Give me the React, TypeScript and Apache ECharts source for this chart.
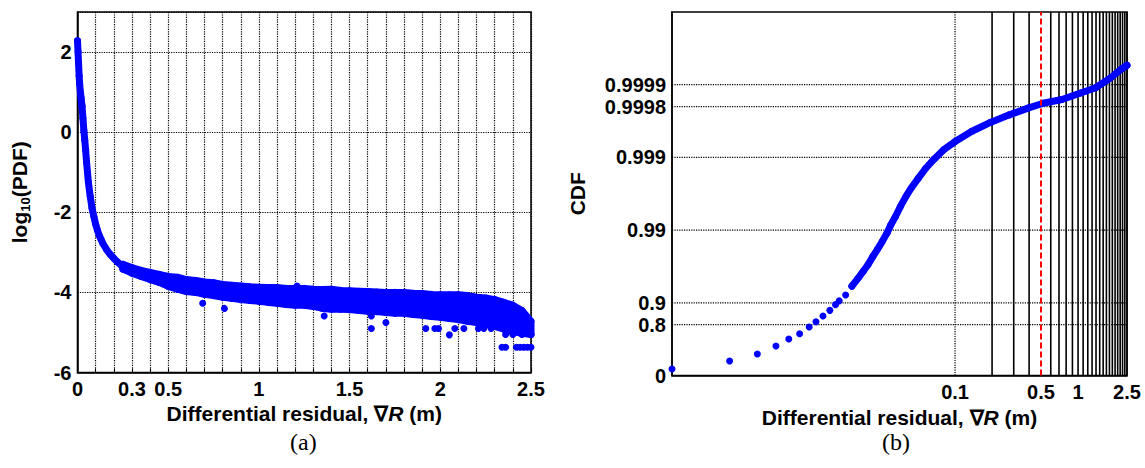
import React, { useEffect, useRef } from 'react';
import * as echarts from 'echarts';

// ---------- Panel (a): log10(PDF) vs differential residual ----------
const pdfCurveX = [0, 0.003, 0.006, 0.009, 0.012, 0.016, 0.02, 0.025, 0.03, 0.035, 0.04, 0.045, 0.05, 0.055, 0.06, 0.07, 0.08, 0.09, 0.1, 0.11, 0.12, 0.13, 0.14, 0.16, 0.18, 0.2, 0.22, 0.25];
const pdfCurveY = [2.28, 2.0, 1.7, 1.4, 1.2, 1.0, 0.85, 0.65, 0.35, 0.05, -0.2, -0.45, -0.75, -1.0, -1.25, -1.6, -1.9, -2.1, -2.3, -2.45, -2.58, -2.68, -2.78, -2.93, -3.05, -3.15, -3.24, -3.36];

const bandX = [0.25, 0.3, 0.35, 0.4, 0.45, 0.5, 0.55, 0.6, 0.65, 0.7, 0.75, 0.8, 0.85, 0.9, 0.95, 1.0, 1.05, 1.1, 1.15, 1.2, 1.25, 1.3, 1.35, 1.4, 1.45, 1.5, 1.55, 1.6, 1.65, 1.7, 1.75, 1.8, 1.85, 1.9, 1.95, 2.0, 2.05, 2.1, 2.15, 2.2, 2.25, 2.3, 2.35, 2.4, 2.45, 2.5];
const bandTop = [-3.3, -3.38, -3.45, -3.5, -3.55, -3.6, -3.62, -3.68, -3.7, -3.74, -3.76, -3.8, -3.82, -3.84, -3.86, -3.87, -3.88, -3.88, -3.9, -3.9, -3.9, -3.92, -3.93, -3.92, -3.95, -3.96, -3.97, -3.98, -3.99, -4.0, -4.0, -4.0, -4.02, -4.03, -4.05, -4.06, -4.06, -4.06, -4.08, -4.12, -4.14, -4.18, -4.25, -4.32, -4.45, -4.72];
const bandBottom = [-3.42, -3.52, -3.6, -3.68, -3.75, -3.85, -3.92, -3.98, -4.0, -4.05, -4.08, -4.12, -4.15, -4.18, -4.2, -4.22, -4.25, -4.27, -4.3, -4.32, -4.32, -4.35, -4.4, -4.42, -4.42, -4.43, -4.45, -4.47, -4.48, -4.5, -4.52, -4.52, -4.55, -4.57, -4.6, -4.62, -4.65, -4.68, -4.72, -4.75, -4.8, -4.85, -4.92, -4.98, -5.02, -5.05];

const outlierX = [0.69, 0.81, 1.21, 1.36, 1.62, 1.62, 1.7, 1.92, 1.97, 1.99, 2.05, 2.08, 2.13, 2.21, 2.24, 2.28, 2.36, 2.4, 2.45, 2.5, 2.34, 2.36, 2.42, 2.44, 2.46, 2.48, 2.5];
const outlierY = [-4.27, -4.4, -3.84, -4.59, -4.9, -4.59, -4.75, -4.9, -4.9, -4.9, -5.06, -4.9, -4.9, -4.9, -4.9, -4.9, -5.05, -5.05, -5.05, -5.05, -5.37, -5.37, -5.37, -5.37, -5.37, -5.37, -5.37];

const pdfXTicks = [0, 0.3, 0.5, 1, 1.5, 2, 2.5];
const pdfYTicks = [-6, -4, -2, 0, 2];

// ---------- Panel (b): CDF vs differential residual (log x, probability y) ----------
const cdfX = [0.0005, 0.00147, 0.00247, 0.0035, 0.00445, 0.00545, 0.00652, 0.0074, 0.00844, 0.0096, 0.01067, 0.01143, 0.0129, 0.0145, 0.01626, 0.0179, 0.0196, 0.0215, 0.0234, 0.0255, 0.028, 0.03, 0.0327, 0.0358, 0.0398, 0.0442, 0.0502, 0.0578, 0.0675, 0.0805, 0.0995, 0.136, 0.194, 0.276, 0.392, 0.52, 0.74, 1.05, 1.39, 1.85, 2.28, 2.5];
const cdfP = [0.185, 0.37, 0.494, 0.607, 0.685, 0.734, 0.785, 0.818, 0.848, 0.873, 0.894, 0.906, 0.922, 0.941, 0.954, 0.963, 0.97, 0.977, 0.9816, 0.9855, 0.989, 0.9915, 0.99345, 0.9952, 0.99653, 0.99739, 0.99806, 0.99859, 0.99894, 0.99921, 0.99939, 0.99956, 0.99967, 0.99974, 0.99979, 0.99982, 0.99984, 0.99987, 0.99989, 0.99992, 0.99994, 0.999946];

const cdfTickValues = [0, 0.8, 0.9, 0.99, 0.999, 0.9998, 0.9999];
const cdfTickLabels = ['0', '0.8', '0.9', '0.99', '0.999', '0.9998', '0.9999'];
const residualTicks = [0.1, 0.5, 1, 2.5];
const residualGrid = [0.1, 0.2, 0.3, 0.4, 0.5, 0.6, 0.7, 0.8, 0.9, 1.0, 1.1, 1.2, 1.3, 1.4, 1.5, 1.6, 1.7, 1.8, 1.9, 2.0, 2.1, 2.2, 2.3, 2.4, 2.5];
const thresholdX = 0.5;
const cdfXMin = 0.0005;
const cdfXMax = 2.5;
const cdfYMax = 5;

const BLUE = '#0000ff';
const FONT = '"Liberation Sans", Arial, sans-serif';
const SERIF = '"Liberation Serif", "Times New Roman", serif';

const toLog = (x: number) => Math.log10(x);
const toProb = (p: number) => -Math.log10(1 - p);

const near = (a: number, b: number) => Math.abs(a - b) < 1e-6;

const tickFont = { fontSize: 20, fontWeight: 'bold' as const, color: '#000', fontFamily: FONT };
const dotted = { color: '#000', width: 1.2, type: [1.2, 1.2] };

export default function App() {
  const ref = useRef<HTMLDivElement>(null);
  useEffect(() => {
    if (!ref.current) return;
    const chart = echarts.init(ref.current, undefined, { renderer: 'svg' });

    const xTitle = {
      name: 'Differential residual, \u2207{it|R} (m)',
      nameLocation: 'middle' as const,
      nameTextStyle: {
        fontSize: 21, fontWeight: 'bold' as const, color: '#000', fontFamily: FONT,
        rich: { it: { fontSize: 21, fontWeight: 'bold' as const, fontStyle: 'italic' as const, color: '#000', fontFamily: FONT } },
      },
    };

    const hGridLines = cdfTickValues.slice(1).map((p) => ({
      type: 'line', xAxisIndex: 1, yAxisIndex: 1, silent: true, symbol: 'none', z: 1,
      data: [[toLog(cdfXMin), toProb(p)], [toLog(cdfXMax), toProb(p)]],
      lineStyle: dotted,
    }));
    const vGridLines = residualGrid.filter((x) => !near(x, thresholdX)).map((x) => ({
      type: 'line', xAxisIndex: 1, yAxisIndex: 1, silent: true, symbol: 'none', z: 1,
      data: [[toLog(x), 0], [toLog(x), cdfYMax]],
      lineStyle: near(x, 0.1) ? dotted : { color: '#000', width: 1.6, type: 'solid' },
    }));

    const option: any = {
      animation: false,
      grid: [
        { left: 77.5, top: 12, width: 453.5, height: 360.5, show: true, borderColor: '#000', borderWidth: 1.5, backgroundColor: 'transparent' },
        { left: 672, top: 12, width: 455, height: 363.5, show: true, borderColor: '#000', borderWidth: 1.5, backgroundColor: 'transparent' },
      ],
      xAxis: [
        {
          gridIndex: 0, type: 'value', min: 0, max: 2.5, interval: 0.1,
          ...xTitle, nameGap: 30,
          axisLine: { show: true, onZero: false, lineStyle: { color: '#000', width: 1.5 } },
          axisTick: { show: true, inside: true, length: 4, lineStyle: { color: '#000' } },
          splitLine: { show: true, lineStyle: dotted },
          axisLabel: {
            ...tickFont, margin: 6, interval: 0, showMinLabel: true, showMaxLabel: true,
            formatter: (v: number) => { const t = pdfXTicks.find((k) => near(k, v)); return t === undefined ? '' : String(t); },
          },
        },
        {
          gridIndex: 1, type: 'value', min: toLog(cdfXMin), max: toLog(cdfXMax),
          ...xTitle, nameGap: 31,
          axisLine: { show: true, onZero: false, lineStyle: { color: '#000', width: 1.5 } },
          axisTick: { show: false },
          splitLine: { show: false },
          axisLabel: {
            ...tickFont, margin: 6,
            customValues: residualTicks.map(toLog),
            formatter: (v: number) => { const t = residualTicks.find((k) => near(toLog(k), v)); return t === undefined ? '' : String(t); },
          },
        },
      ],
      yAxis: [
        {
          gridIndex: 0, type: 'value', min: -6, max: 3, interval: 2,
          name: 'log{sub|10}(PDF)', nameLocation: 'middle', nameGap: 46,
          nameTextStyle: {
            fontSize: 21, fontWeight: 'bold', color: '#000', fontFamily: FONT, lineHeight: 24,
            rich: { sub: { fontSize: 13, fontWeight: 'bold', color: '#000', fontFamily: FONT, lineHeight: 14, padding: [15, 0, 0, 0], verticalAlign: 'bottom' } },
          },
          axisLine: { show: true, onZero: false, lineStyle: { color: '#000', width: 1.5 } },
          axisTick: { show: false },
          splitLine: { show: true, lineStyle: dotted },
          axisLabel: {
            ...tickFont, margin: 6, showMinLabel: true,
            formatter: (v: number) => { const t = pdfYTicks.find((k) => near(k, v)); return t === undefined ? '' : String(t); },
          },
        },
        {
          gridIndex: 1, type: 'value', min: 0, max: cdfYMax,
          name: 'CDF', nameLocation: 'middle', nameGap: 84,
          nameTextStyle: { fontSize: 21, fontWeight: 'bold', color: '#000', fontFamily: FONT },
          axisLine: { show: true, onZero: false, lineStyle: { color: '#000', width: 1.5 } },
          axisTick: { show: false },
          splitLine: { show: false },
          axisLabel: {
            ...tickFont, margin: 6,
            customValues: cdfTickValues.map(toProb),
            formatter: (v: number) => { const i = cdfTickValues.findIndex((p) => near(toProb(p), v)); return i < 0 ? '' : cdfTickLabels[i]; },
          },
        },
      ],
      graphic: [
        { type: 'text', left: 290, top: 430, style: { text: '(a)', font: `24px ${SERIF}`, fill: '#000' } },
        { type: 'text', left: 882, top: 430, style: { text: '(b)', font: `24px ${SERIF}`, fill: '#000' } },
      ],
      series: [
        {
          type: 'custom', xAxisIndex: 0, yAxisIndex: 0, silent: true, z: 2,
          data: [[bandX[0], bandTop[0]]],
          renderItem: (params: any, api: any) => {
            if (params.dataIndex !== 0) return null;
            const pts: number[][] = [];
            bandX.forEach((x, i) => pts.push(api.coord([x, bandTop[i]])));
            for (let i = bandX.length - 1; i >= 0; i--) pts.push(api.coord([bandX[i], bandBottom[i]]));
            return { type: 'polygon', shape: { points: pts }, style: { fill: BLUE, stroke: BLUE, lineWidth: 7, lineJoin: 'round', opacity: 1 } };
          },
        },
        {
          type: 'line', xAxisIndex: 0, yAxisIndex: 0, silent: true, z: 3,
          data: pdfCurveX.map((x, i) => [x, pdfCurveY[i]]),
          symbol: 'circle', symbolSize: 7, showSymbol: true,
          itemStyle: { color: BLUE, opacity: 1 }, lineStyle: { color: BLUE, width: 7, cap: 'round', join: 'round', opacity: 1 },
        },
        {
          type: 'scatter', xAxisIndex: 0, yAxisIndex: 0, silent: true, z: 3, symbolSize: 7,
          itemStyle: { color: BLUE, opacity: 1 },
          data: [
            ...bandX.map((x, i) => [x, bandTop[i]]),
            ...bandX.map((x, i) => [x, bandBottom[i]]),
            ...outlierX.map((x, i) => [x, outlierY[i]]),
          ],
        },
        ...hGridLines,
        ...vGridLines,
        {
          type: 'line', xAxisIndex: 1, yAxisIndex: 1, silent: true, z: 3,
          data: cdfX.slice(13).map((x, i) => [toLog(x), toProb(cdfP[i + 13])]),
          symbol: 'none', lineStyle: { color: BLUE, width: 7, cap: 'round', join: 'round', opacity: 1 },
        },
        {
          type: 'scatter', xAxisIndex: 1, yAxisIndex: 1, silent: true, z: 3, symbolSize: 7,
          itemStyle: { color: BLUE, opacity: 1 },
          data: cdfX.map((x, i) => [toLog(x), toProb(cdfP[i])]),
        },
        {
          type: 'line', xAxisIndex: 1, yAxisIndex: 1, silent: true, z: 4, symbol: 'none',
          data: [[toLog(thresholdX), 0], [toLog(thresholdX), cdfYMax]],
          lineStyle: { color: '#ff0000', width: 2, type: [6, 3] },
        },
      ],
    };
    chart.setOption(option);
    return () => chart.dispose();
  }, []);
  return <div ref={ref} style={{ position: 'absolute', left: 0, top: 0, width: 1145, height: 468, background: '#fff' }} />;
}
